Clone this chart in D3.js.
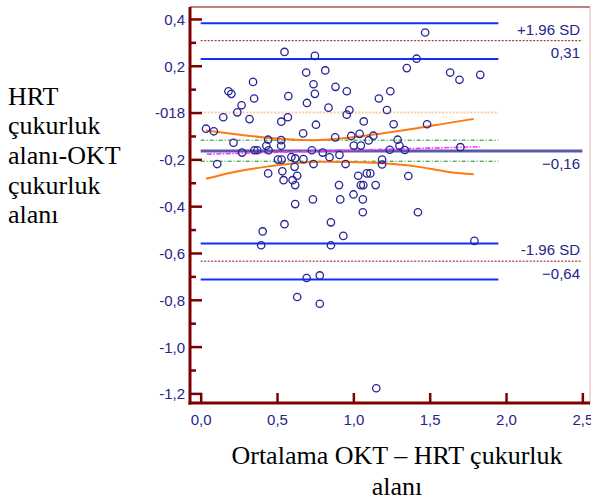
<!DOCTYPE html>
<html><head><meta charset="utf-8">
<script src="https://cdn.jsdelivr.net/npm/d3@7"></script>
<style>body{margin:0;background:#fff} svg{display:block}</style>
</head><body>
<script>
// Bland–Altman: mean of the two methods vs. their difference
const meanVals = [
  0.549,0.748,0.691,0.816,0.739,0.748,0.343,0.350,0.182,0.201,0.268,0.240,0.148,0.320,0.574,0.696,
  0.883,0.957,0.837,0.974,0.957,1.068,0.571,0.528,0.755,0.035,0.086,1.470,1.414,1.350,1.634,1.695,
  1.831,1.167,1.242,1.220,1.264,1.483,
  0.215,0.671,0.881,0.986,1.041,0.442,0.527,0.430,0.527,1.049,1.003,0.352,0.371,0.445,0.728,0.799,
  0.844,0.909,0.271,0.108,0.506,0.530,0.594,0.619,0.673,0.739,0.949,1.131,1.100,1.290,1.302,1.337,
  1.238,1.701,1.188,1.188,0.615,
  0.535,0.442,0.632,0.543,0.602,0.619,1.032,1.088,1.111,1.360,0.906,1.049,1.065,1.146,1.001,0.735,
  0.914,1.062,0.619,1.062,1.423,0.853,0.549,0.406,0.934,0.396,0.853,1.793,
  0.694,0.780,0.632,0.780,1.150
];
const diffVals = [
  0.259,0.242,0.171,0.180,0.121,0.080,0.131,0.060,0.091,0.080,0.031,0.001,-0.020,-0.028,0.070,0.041,
  0.110,0.091,0.021,0.011,-0.009,-0.038,-0.020,-0.039,-0.052,-0.069,-0.080,0.342,0.230,0.190,0.171,0.140,
  0.161,0.060,0.091,0.011,-0.050,-0.050,
  -0.129,-0.089,-0.106,-0.100,-0.091,-0.116,-0.118,-0.142,-0.142,-0.141,-0.141,-0.161,-0.161,-0.161,-0.161,-0.171,
  -0.191,-0.181,-0.171,-0.220,-0.201,-0.201,-0.190,-0.196,-0.199,-0.220,-0.220,-0.099,-0.119,-0.116,-0.142,-0.160,
  -0.159,-0.148,-0.201,-0.222,-0.232,
  -0.251,-0.260,-0.270,-0.289,-0.289,-0.310,-0.270,-0.260,-0.260,-0.271,-0.310,-0.310,-0.310,-0.310,-0.350,-0.371,
  -0.371,-0.371,-0.391,-0.426,-0.426,-0.469,-0.477,-0.508,-0.527,-0.567,-0.567,-0.548,
  -0.707,-0.696,-0.788,-0.817,-1.178
];

const yTickVals = [-1.2,-1.0,-0.8,-0.6,-0.4,-0.2,0,0.2,0.4];
const yTickLabels = ["-1,2","-1,0","-0,8","-0,6","-0,4","-0,2","-018","0,2","0,4"];
const yMinorVals = [-1.1,-0.9,-0.7,-0.5,-0.3,-0.1,0.1,0.3];
const xTickVals = [0,0.5,1.0,1.5,2.0,2.5];
const xTickLabels = ["0,0","0,5","1,0","1,5","2,0","2,5"];

const meanDiff = -0.164;
const limitVals = [0.307, -0.635];          // mean ± 1.96 SD
const limitNames = ["+1.96 SD", "-1.96 SD"];
const upperLimitCI = [0.382, 0.229];
const lowerLimitCI = [-0.560, -0.713];
const meanCI = [-0.118, -0.208];
const refSpan = [0, 1.95];
const fullSpan = [0, 2.5];

const regX = [0.04, 1.83];
const regY = [-0.178, -0.146];
const bandUpX = [0.035,0.323,0.542,0.739,0.980,1.198,1.417,1.636,1.789];
const bandUpY = [-0.077,-0.100,-0.113,-0.118,-0.107,-0.088,-0.067,-0.043,-0.027];
const bandLoX = [0.035,0.214,0.433,0.652,0.804,0.980,1.198,1.417,1.636,1.789];
const bandLoY = [-0.283,-0.255,-0.231,-0.214,-0.210,-0.211,-0.217,-0.231,-0.255,-0.264];

const yTitleLines = ["HRT","çukurluk","alanı-OKT","çukurluk","alanı"];
const xTitleLines = ["Ortalama OKT – HRT çukurluk","alanı"];

const W = 591, H = 501;
const plotL = 190, plotR = 590, plotT = 7, plotB = 403;
const axisColor = "#7d0000", textColor = "#25258a";
const fmt = v => d3.format(".2f")(v).replace(".", ",");

const svg = d3.select("body").append("svg").attr("width", W).attr("height", H);

const x = d3.scaleLinear().domain([-0.07, 2.55]).range([plotL, plotR]);
const y = d3.scaleLinear().domain([-1.241, 0.451]).range([plotB, plotT]);

// frame (thin top/right edges)
svg.append("line").attr("x1", plotL).attr("x2", plotR).attr("y1", plotT).attr("y2", plotT)
  .attr("stroke", axisColor).attr("stroke-width", 1.2);
svg.append("line").attr("x1", plotR).attr("x2", plotR).attr("y1", plotT).attr("y2", plotB)
  .attr("stroke", "#e8b0b0").attr("stroke-width", 1);

const g = svg.append("g");

function hline(v, span, color, width, dash) {
  g.append("line")
    .attr("x1", x(span[0])).attr("x2", x(span[1]))
    .attr("y1", y(v)).attr("y2", y(v))
    .attr("stroke", color).attr("stroke-width", width)
    .attr("stroke-dasharray", dash || null);
}

// zero line
hline(0, refSpan, "#ffc9a8", 2, "2,1.5");
// confidence limits of the limits of agreement
upperLimitCI.concat(lowerLimitCI).forEach(v => hline(v, refSpan, "#1030ff", 2));
// limits of agreement
limitVals.forEach(v => hline(v, fullSpan, "#8b1010", 1, "2,1.5"));
// confidence interval of the mean difference
meanCI.forEach(v => hline(v, refSpan, "#108a10", 1, "4,2,1,2"));

// regression of differences with its confidence band
const line = d3.line().x(d => x(d[0])).y(d => y(d[1])).curve(d3.curveMonotoneX);
g.append("path").datum(bandUpX.map((v, i) => [v, bandUpY[i]])).attr("d", line)
  .attr("fill", "none").attr("stroke", "#ff7a10").attr("stroke-width", 2);
g.append("path").datum(bandLoX.map((v, i) => [v, bandLoY[i]])).attr("d", line)
  .attr("fill", "none").attr("stroke", "#ff7a10").attr("stroke-width", 2);

// mean difference
hline(meanDiff, fullSpan, "#5a5aa8", 3);

g.append("path").datum(regX.map((v, i) => [v, regY[i]])).attr("d", d3.line().x(d => x(d[0])).y(d => y(d[1])))
  .attr("fill", "none").attr("stroke", "#ff30ff").attr("stroke-width", 1.6).attr("stroke-dasharray", "5,1.5,1.5,1.5");

// observations
g.selectAll("circle.pt").data(meanVals.map((v, i) => [v, diffVals[i]])).join("circle")
  .attr("class", "pt")
  .attr("cx", d => x(d[0])).attr("cy", d => y(d[1])).attr("r", 3.7)
  .attr("fill", "none").attr("stroke", "#262695").attr("stroke-width", 1.3);

// right-hand labels
const lblX = 580;
const labels = [
  {t: limitNames[0], v: limitVals[0], dy: -6},
  {t: fmt(limitVals[0]), v: limitVals[0], dy: 17},
  {t: fmt(meanDiff), v: meanDiff, dy: 18},
  {t: limitNames[1], v: limitVals[1], dy: -6},
  {t: fmt(limitVals[1]), v: limitVals[1], dy: 18}
];
svg.selectAll("text.rl").data(labels).join("text").attr("class", "rl")
  .attr("x", lblX).attr("y", d => y(d.v) + d.dy)
  .attr("text-anchor", "end")
  .attr("font-family", "'Liberation Sans', Arial, sans-serif").attr("font-size", 15)
  .attr("fill", textColor).text(d => d.t);

// y axis
const yAxis = svg.append("g").attr("transform", `translate(${plotL},0)`)
  .call(d3.axisLeft(y).tickValues(yTickVals).tickSize(-12).tickPadding(4)
    .tickFormat((d, i) => yTickLabels[i]));
const yMinor = svg.append("g").attr("transform", `translate(${plotL},0)`)
  .call(d3.axisLeft(y).tickValues(yMinorVals).tickSize(-6).tickFormat(""));
// x axis
const xAxis = svg.append("g").attr("transform", `translate(0,${plotB})`)
  .call(d3.axisBottom(x).tickValues(xTickVals).tickSize(-10).tickPadding(8)
    .tickFormat((d, i) => xTickLabels[i]));

[yAxis, yMinor, xAxis].forEach(a => {
  a.select(".domain").remove();
  a.selectAll(".tick line").attr("stroke", axisColor).attr("stroke-width", 2.5);
  a.selectAll(".tick text").attr("fill", textColor)
    .attr("font-family", "'Liberation Sans', Arial, sans-serif").attr("font-size", 15);
});
yAxis.selectAll(".tick text").attr("x", -5).attr("dy", "0.36em");
xAxis.selectAll(".tick text").attr("dy", "0.95em");

svg.append("line").attr("x1", plotL).attr("x2", plotL).attr("y1", plotT).attr("y2", plotB + 1.5)
  .attr("stroke", axisColor).attr("stroke-width", 3);
svg.append("line").attr("x1", plotL - 1.5).attr("x2", plotR).attr("y1", plotB).attr("y2", plotB)
  .attr("stroke", axisColor).attr("stroke-width", 3);

// axis titles
svg.append("g").selectAll("text").data(yTitleLines).join("text")
  .attr("x", 8).attr("y", (d, i) => 104.5 + i * 29.7)
  .attr("font-family", "'Liberation Serif', 'Times New Roman', serif").attr("font-size", 26)
  .attr("fill", "#000").text(d => d);
svg.append("g").selectAll("text").data(xTitleLines).join("text")
  .attr("x", 397).attr("y", (d, i) => 464 + i * 31)
  .attr("text-anchor", "middle")
  .attr("font-family", "'Liberation Serif', 'Times New Roman', serif").attr("font-size", 26)
  .attr("fill", "#000").text(d => d);
</script>
</body></html>
